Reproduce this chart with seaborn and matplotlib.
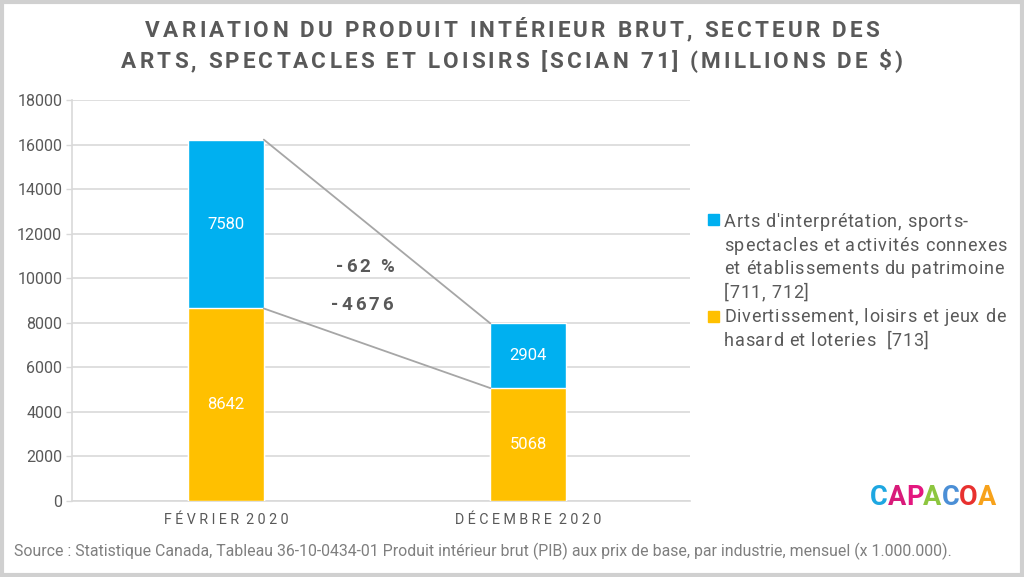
import matplotlib
matplotlib.use("Agg")
import matplotlib.pyplot as plt
import seaborn as sns
import pandas as pd
from matplotlib.patches import Rectangle
from matplotlib.font_manager import FontProperties

categories = ["FÉVRIER 2020", "DÉCEMBRE 2020"]
tick_labels = ["F É V R I E R  2 0 2 0", "D É C E M B R E  2 0 2 0"]
divertissement = [8642, 5068]
arts = [7580, 2904]
label_arts = ["Arts d'interprétation, sports-", "spectacles et activités connexes",
              "et établissements du patrimoine", "[711, 712]"]
label_div = ["Divertissement, loisirs et jeux de", "hasard et loteries  [713]"]
annot_pct = "-62 %"
annot_abs = "-4676"
title_lines = ["VARIATION DU PRODUIT INTÉRIEUR BRUT, SECTEUR DES",
               "ARTS, SPECTACLES ET LOISIRS [SCIAN 71] (MILLIONS DE $)"]
source = "Source : Statistique Canada, Tableau 36-10-0434-01 Produit intérieur brut (PIB) aux prix de base, par industrie, mensuel (x 1.000.000)."
logo = "CAPACOA"

BLUE = "#00B0F0"
ORANGE = "#FFC000"
GRAY = "#595959"
GRID = "#D9D9D9"
FAM = ["Roboto", "DejaVu Sans"]
LOGO_COLORS = ["#1EA7E1", "#D81B7A", "#E4177F", "#8DC63F", "#4B8FD6", "#E8312F", "#F7A21B"]

sns.set_theme(style="white")
plt.rcParams["font.family"] = FAM

W, H = 1024, 577
df = pd.DataFrame({"cat": categories, "div": divertissement, "arts": arts})
df["total"] = df["div"] + df["arts"]

fig = plt.figure(figsize=(10.24, 5.77), dpi=100)
renderer = fig.canvas.get_renderer()


def tracked(s, x, y_base, size, track, ha="center", weight="normal", color=GRAY):
    """Draw text s with extra letter spacing (pixels); x,y in pixels from top-left."""
    fp = FontProperties(family=FAM, weight=weight, size=size)

    def wid(t):
        return renderer.get_text_width_height_descent(t, fp, ismath=False)[0]

    ref = wid("II")
    adv = [wid("I" + s[:i] + "I") - ref for i in range(len(s) + 1)]
    total = adv[-1] + track * (len(s) - 1)
    x0 = x - total / 2 if ha == "center" else x
    cols = color if isinstance(color, list) else [color] * len(s)
    for i, ch in enumerate(s):
        if ch == " ":
            continue
        fig.text((x0 + adv[i] + track * i) / W, 1 - y_base / H, ch, fontproperties=fp,
                 color=cols[i], ha="left", va="baseline")


ax = fig.add_axes([72/W, 76/H, 618/W, 401/H])

sns.barplot(data=df, x="cat", y="total", color=BLUE, width=0.25, ax=ax,
            saturation=1, order=categories, zorder=3)
sns.barplot(data=df, x="cat", y="div", color=ORANGE, width=0.25, ax=ax,
            saturation=1, order=categories, zorder=3)

ax.set_xlim(-0.51, 1.536)
ax.set_ylim(0, 18000)
ax.set_yticks(range(0, 18001, 2000))
ax.yaxis.grid(True, color=GRID, linewidth=1.2, zorder=0)
ax.set_axisbelow(True)
ax.set_xlabel("")
ax.set_ylabel("")
ax.set_xticks([0, 1])
ax.set_xticklabels(tick_labels, fontsize=10.3, color=GRAY)
ax.tick_params(axis="y", labelsize=11.5, colors=GRAY, length=4, width=1, color=GRID, left=True, pad=3)
ax.tick_params(axis="x", length=0, pad=9)
for lab in ax.get_yticklabels():
    lab.set_color(GRAY)
for s in ["top", "right"]:
    ax.spines[s].set_visible(False)
for s in ["left", "bottom"]:
    ax.spines[s].set_color(GRID)
    ax.spines[s].set_linewidth(1.2)

# value labels
for i in range(2):
    d = divertissement[i]; a = arts[i]
    ax.text(i, d / 2, str(d), ha="center", va="center", color="white", fontsize=12, zorder=5)
    ax.text(i, d + a / 2, str(a), ha="center", va="center", color="white", fontsize=12, zorder=5)

# connector lines
hw = 0.125
tot = [divertissement[i] + arts[i] for i in range(2)]
ax.plot([0 + hw, 1 - hw], [tot[0], tot[1]], color="#A6A6A6", lw=1.3, zorder=4)
ax.plot([0 + hw, 1 - hw], [divertissement[0], divertissement[1]], color="#A6A6A6", lw=1.3, zorder=4)

# annotations
tracked(annot_pct, 365, 272, 13.5, 2.8, weight="bold")
tracked(annot_abs, 362, 310, 13.5, 2.8, weight="bold")

# title
tracked(title_lines[0], 512, 37, 16.2, 3.1, weight="bold")
tracked(title_lines[1], 512, 68, 16.2, 3.1, weight="bold")

# legend
fig.patches.append(Rectangle((708/W, 1 - 225/H), 11/W, 11/H, transform=fig.transFigure, color=BLUE))
for k, line in enumerate(label_arts):
    tracked(line, 724, 227 + 23.7 * k, 13, 0.7, ha="left")
fig.patches.append(Rectangle((708/W, 1 - 322/H), 11/W, 11/H, transform=fig.transFigure, color=ORANGE))
for k, line in enumerate(label_div):
    tracked(line, 724, 322 + 23.7 * k, 13, 0.7, ha="left")

# source
fig.text(14/W, 1 - 551/H, source, ha="left", va="center", fontsize=11.4, color="#7F7F7F")

# logo
tracked(logo, 933, 505, 19.5, 0.0, weight="bold", color=LOGO_COLORS)

# frame
fig.patches.append(Rectangle((0.002, 0.003), 0.996, 0.994, transform=fig.transFigure,
                             fill=False, edgecolor="#D0D0D0", linewidth=3))

fig.savefig("out.png", dpi=100)
